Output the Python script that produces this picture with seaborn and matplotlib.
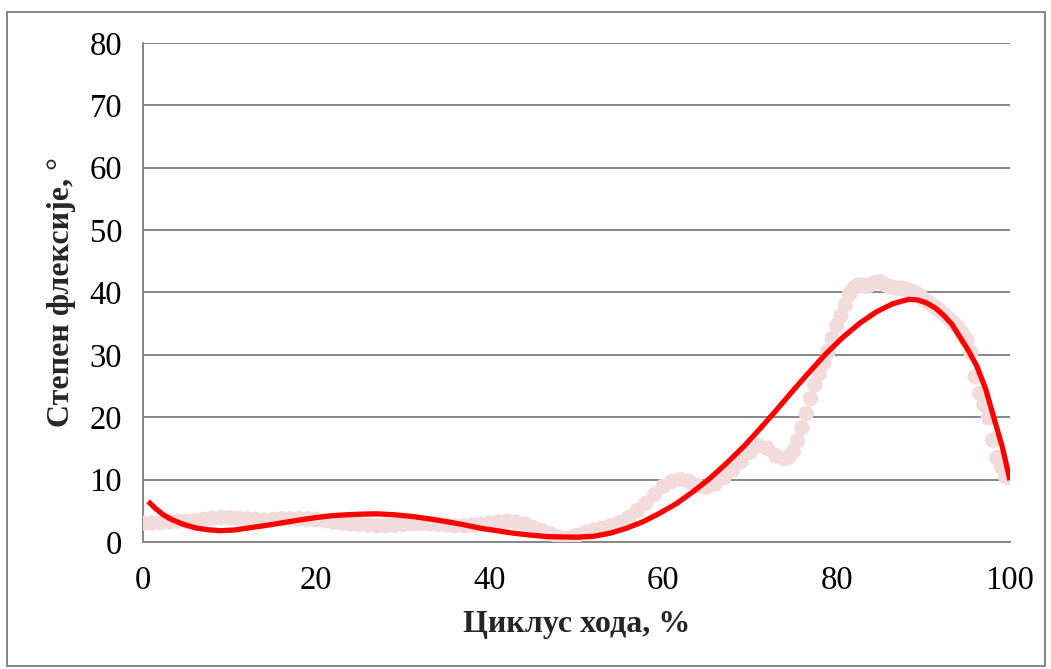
import numpy as np
import pandas as pd
import matplotlib
matplotlib.use("Agg")
import matplotlib.pyplot as plt
import seaborn as sns
from matplotlib.patches import Rectangle

# ---- data ----
cycle_pct = [0, 1, 2, 3, 4, 5, 6, 7, 8, 9, 10, 11, 12, 13, 14, 15, 16, 17, 18, 19,
             20, 21, 22, 23, 24, 25, 26, 27, 28, 29, 30, 31, 32, 33, 34, 35, 36, 37, 38, 39,
             40, 41, 42, 43, 44, 45, 46, 47, 48, 49, 50, 51, 52, 53, 54, 55, 56, 57, 58, 59,
             60, 61, 62, 63, 64, 65, 66, 67, 68, 69, 70, 71, 72, 73, 74,
             74.5, 75, 75.5, 76, 76.5, 77, 77.5, 78, 78.5, 79, 79.5, 80, 80.5, 81, 81.5,
             82, 82.5, 83, 83.5, 84, 84.5, 85, 85.5, 86, 86.5, 87, 87.5, 88, 88.5, 89, 89.5,
             90, 90.5, 91, 91.5, 92, 92.5, 93, 93.5, 94, 94.5, 95, 95.5, 96, 96.5, 97, 97.5,
             98, 98.5, 99, 99.5, 100]
flexion_deg = [3.0, 3.0, 3.1, 3.2, 3.3, 3.3, 3.4, 3.6, 3.8, 3.9, 3.9, 3.8, 3.7, 3.6, 3.5, 3.6, 3.7, 3.7, 3.7, 3.7,
               3.6, 3.4, 3.2, 3.0, 2.9, 2.8, 2.7, 2.6, 2.6, 2.7, 2.8, 2.9, 2.9, 2.9, 2.8, 2.7, 2.6, 2.6, 2.7, 2.8,
               3.0, 3.2, 3.3, 3.2, 2.9, 2.3, 1.8, 1.3, 0.7, 0.6, 1.0, 1.5, 1.9, 2.2, 2.6, 3.1, 3.9, 5.0, 6.2, 7.6,
               8.9, 9.7, 10.0, 9.7, 9.0, 8.8, 9.3, 10.3, 11.5, 12.9, 14.4, 15.4, 15.0, 13.8, 13.3,
               13.6, 14.5, 16.2, 18.3, 20.6, 23.0, 25.2, 27.0, 28.7, 30.5, 32.6, 34.7, 36.3, 38.0, 39.8,
               40.7, 41.2, 41.1, 41.0, 41.3, 41.6, 41.7, 41.3, 41.0, 40.8, 40.7, 40.7, 40.5, 40.3, 40.0, 39.6,
               39.0, 38.5, 38.0, 37.5, 37.0, 36.4, 35.7, 35.1, 34.4, 33.4, 32.4, 30.4, 26.5, 23.8, 22.0, 19.9,
               16.3, 13.5, 12.0, 10.5, 10.3]

# polynomial trendline as drawn in the reference
trend_x = [0.6, 1.5, 2.4, 3.3, 4.3, 5.2, 6.2, 7.5, 8.9, 10.5, 12.0, 14.0, 15.8, 18.0, 20.0,
           21.8, 23.5, 25.2, 27.0, 29.0, 31.2, 33.0, 35.0, 37.0, 38.9, 40.8, 42.7, 44.6, 46.6,
           48.1, 50.0, 52.0, 53.9, 55.8, 57.7, 59.6, 61.6, 63.5, 65.4, 67.3, 69.3, 71.2, 73.1,
           75.0, 76.9, 78.8, 80.8, 82.7, 84.6, 86.5, 88.3, 89.4, 90.4, 91.4, 92.3, 93.3, 94.2,
           95.2, 96.2, 97.2, 98.1, 99.1, 100.0]
trend_y = [6.5, 5.3, 4.3, 3.6, 3.0, 2.6, 2.2, 1.95, 1.8, 1.9, 2.2, 2.6, 3.0, 3.5, 3.9,
           4.2, 4.35, 4.45, 4.5, 4.35, 4.05, 3.7, 3.25, 2.75, 2.2, 1.8, 1.4, 1.1, 0.85,
           0.8, 0.75, 0.9, 1.4, 2.2, 3.25, 4.6, 6.2, 8.1, 10.2, 12.6, 15.3, 18.2, 21.2,
           24.3, 27.3, 30.2, 32.9, 35.1, 36.9, 38.2, 38.9, 38.8, 38.3, 37.5, 36.4, 34.9, 32.9,
           30.7, 28.1, 24.5, 20.1, 15.3, 9.9]

x_ticks = [0, 20, 40, 60, 80, 100]
y_ticks = [0, 10, 20, 30, 40, 50, 60, 70, 80]
x_label = "Циклус хода, %"
y_label = "Степен флексије, °"

df = pd.DataFrame({"x": cycle_pct, "y": flexion_deg})
trend = pd.DataFrame({"x": trend_x, "y": trend_y})

sns.set_theme(style="white")
plt.rcParams["font.family"] = ["Liberation Serif", "DejaVu Serif"]

fig = plt.figure(figsize=(10.51, 6.69), dpi=100)
ax = fig.add_axes([0.136, 0.19, 0.825, 0.7457])

grid_c = "#868686"
sns.scatterplot(data=df, x="x", y="y", ax=ax, s=125, color="#F2DCDB",
                edgecolor="none", linewidth=0, zorder=3, legend=False)
sns.lineplot(data=trend, x="x", y="y", ax=ax, color="#FF0000", lw=3.8,
             zorder=4, sort=False, estimator=None, legend=False,
             solid_joinstyle="round", solid_capstyle="butt")

ax.set_xlim(0, 100)
ax.set_ylim(0, 80)
ax.set_xticks(x_ticks)
ax.set_yticks(y_ticks)
ax.tick_params(axis="both", labelsize=23.5, colors="black", length=7,
               width=1.3, direction="out", color=grid_c, pad=8)
ax.tick_params(axis="x", pad=10)
for yv in y_ticks:
    ax.axhline(yv, color=grid_c, lw=1.4, zorder=1)
for side in ["top", "right"]:
    ax.spines[side].set_visible(False)
for side in ["left", "bottom"]:
    ax.spines[side].set_color(grid_c)
    ax.spines[side].set_linewidth(1.4)

ax.set_xlabel(x_label, fontsize=23, fontweight="bold", labelpad=10)
ax.set_ylabel(y_label, fontsize=23, fontweight="bold", labelpad=10)

fig.patches.append(Rectangle((7 / 1051, 3 / 669), 1038 / 1051, 654 / 669,
                             transform=fig.transFigure, fill=False,
                             edgecolor=grid_c, lw=1.4))

fig.savefig("out.png", dpi=100)
